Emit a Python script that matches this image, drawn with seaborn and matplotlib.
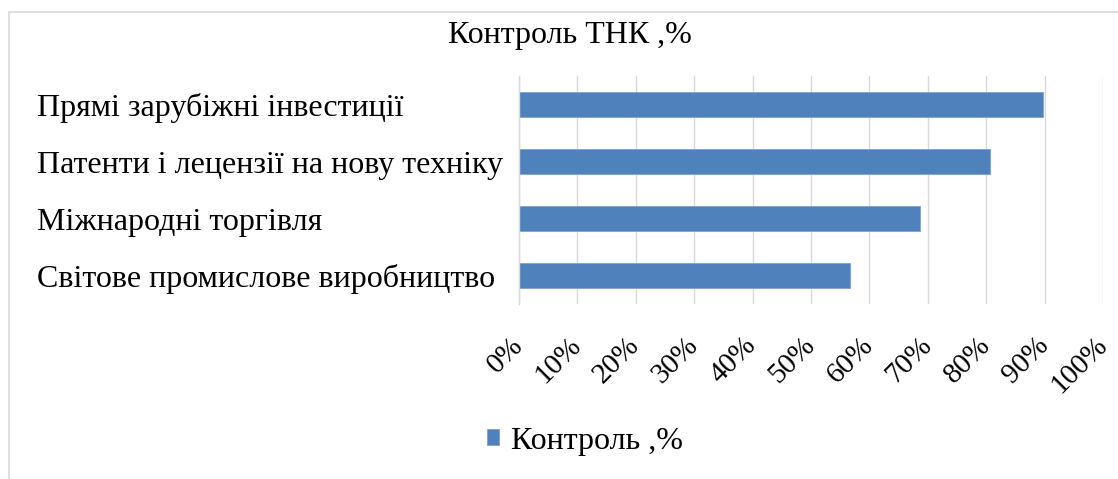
import pandas as pd
import seaborn as sns
import matplotlib.pyplot as plt
from matplotlib.patches import Patch, Rectangle

categories = ['Прямі зарубіжні інвестиції',
              'Патенти і лецензії на нову техніку',
              'Міжнародні торгівля',
              'Світове промислове виробництво']
values = [89.7, 80.7, 68.6, 56.6]
x_ticks = list(range(0, 101, 10))
x_labels = [f'{t}%' for t in x_ticks]
title = 'Контроль ТНК ,%'
series_name = 'Контроль ,%'

bar_color = '#4F81BD'
grid_color = '#d9d9d9'

sns.set_style('white')
plt.rcParams['font.family'] = ['Liberation Serif', 'DejaVu Serif']
plt.rcParams['text.color'] = 'black'
plt.rcParams['xtick.color'] = 'black'
plt.rcParams['ytick.color'] = 'black'

df = pd.DataFrame({'category': categories, 'value': values})

W, H = 1118, 479
fig = plt.figure(figsize=(W / 100, H / 100), dpi=100)
ax = fig.add_axes([519 / W, 1 - 304 / H, (1103 - 519) / W, (304 - 76) / H])

sns.barplot(data=df, x='value', y='category', color=bar_color, width=0.44,
            saturation=1, edgecolor='#7da3d3', linewidth=0.6, ax=ax)

ax.set_xlim(0, 100)
ax.set_xticks(x_ticks)
ax.set_xticklabels(x_labels, rotation=45, ha='right', va='center',
                   rotation_mode='anchor', fontsize=21)
ax.tick_params(axis='x', length=0, pad=27, labelcolor='black')
ax.set_xlabel('')
ax.set_ylabel('')

ax.xaxis.grid(True, color=grid_color, linewidth=1)
ax.set_axisbelow(True)
for s in ['top', 'right', 'bottom']:
    ax.spines[s].set_visible(False)
ax.spines['left'].set_color(grid_color)
ax.spines['left'].set_linewidth(1)

# category labels left aligned, ticks between categories
ax.set_yticks(range(len(categories)))
ax.set_yticklabels(categories, ha='left', fontsize=23)
ax.tick_params(axis='y', length=0, pad=(519 - 37) * 0.72, labelcolor='black')
ax.set_yticks([i - 0.5 for i in range(len(categories) + 1)], minor=True)
ax.tick_params(axis='y', which='minor', length=5, color=grid_color, width=1)
ax.set_ylim(len(categories) - 0.5, -0.5)

fig.text(570 / W, 1 - 35 / H, title, ha='center', va='center', fontsize=23,
         color='black')

handle = Patch(facecolor=bar_color, edgecolor='#7da3d3', linewidth=0.6)
fig.legend([handle], [series_name], loc='center', bbox_to_anchor=(585 / W, 1 - 441 / H),
           frameon=False, fontsize=23, handlelength=0.38, handleheight=0.38,
           handletextpad=0.35, labelcolor='black')

# chart area frame
fig.add_artist(Rectangle((9 / W, -0.1), 2, 1 - 12 / H + 0.1, fill=False,
                         edgecolor=grid_color, linewidth=1.2, transform=fig.transFigure))

fig.savefig('out.png', dpi=100)
